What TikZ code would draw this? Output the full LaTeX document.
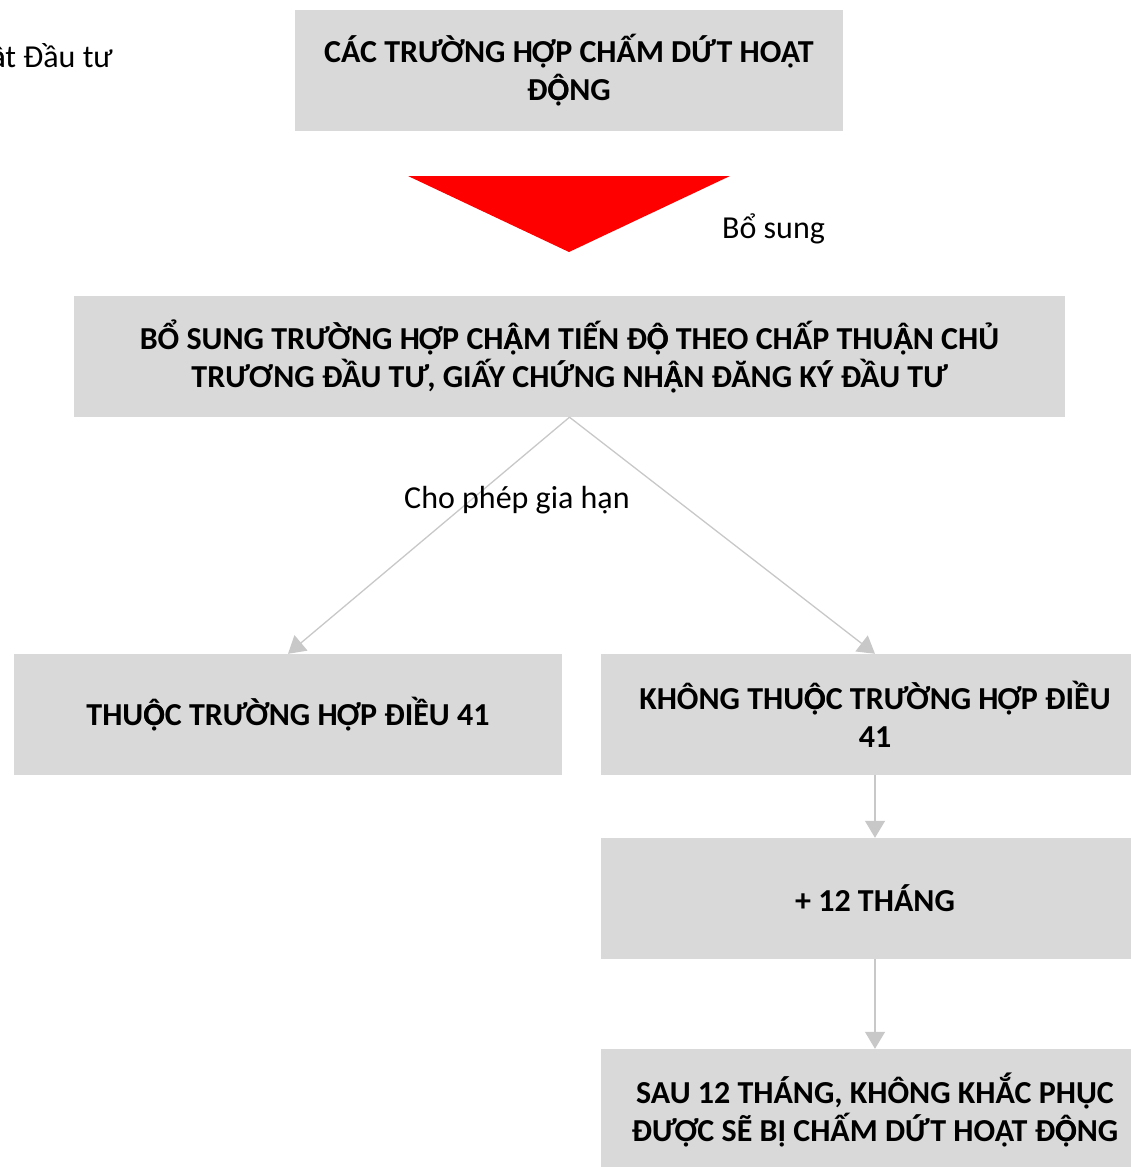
\documentclass[tikz,border=0pt]{standalone}
\usepackage{fontspec}
\setmainfont{Carlito}
\usetikzlibrary{arrows.meta}
\definecolor{boxgray}{RGB}{217,217,217}
\definecolor{linegray}{RGB}{200,200,200}
\newcommand\OCD{\rlap{Ô}Ọ}
\newcommand\ACD{\rlap{Â}Ạ}
\newcommand\acd{\rlap{â}ạ}
\begin{document}
\begin{tikzpicture}[x=1pt,y=-1pt,
 box/.style={fill=boxgray, minimum width=548pt, minimum height=121pt, align=center, font=\fontsize{32}{38}\selectfont\bfseries, inner sep=0pt},
 conn/.style={draw=linegray, line width=1.3pt, -{Triangle[width=20pt,length=17pt]}},
 lbl/.style={font=\fontsize{32}{38}\selectfont, inner sep=0pt}]
\useasboundingbox (0,0) rectangle (1131,1167);
\clip (0,0) rectangle (1131,1167);
\node[box] (b1) at (569,70.5) {CÁC TRƯỜNG HỢP CHẤM DỨT HOẠT\\Đ\OCD NG};
\fill[red] (408,176) -- (730,176) -- (569,252) -- cycle;
\node[lbl, anchor=west] (bs) at (722,229) {Bổ sung};
\node[box, minimum width=991pt] (b2) at (569.5,356.5) {BỔ SUNG TRƯỜNG HỢP CH\ACD M TIẾN Đ\OCD\ THEO CHẤP THU\ACD N CHỦ\\TRƯƠNG ĐẦU TƯ, GIẤY CHỨNG NH\ACD N ĐĂNG KÝ ĐẦU TƯ};
\node[lbl, anchor=east] (lt) at (113,58) {Lu\acd t Đầu tư};
\node[box] (b3) at (288,714.5) {THU\OCD C TRƯỜNG HỢP ĐIỀU 41};
\node[box] (b4) at (875,714.5) {KHÔNG THU\OCD C TRƯỜNG HỢP ĐIỀU\\41};
\node[box] (b5) at (875,898.5) {+ 12 THÁNG};
\node[box] (b6) at (875,1109.5) {SAU 12 THÁNG, KHÔNG KHẮC PHỤC\\ĐƯỢC SẼ BỊ CHẤM DỨT HOẠT Đ\OCD NG};
\draw[conn] (b2.south) -- (b3.north);
\draw[conn] (b2.south) -- (b4.north);
\draw[conn] (b4.south) -- (b5.north);
\draw[conn] (b5.south) -- (b6.north);
\node[lbl, anchor=west] (cp) at (404,500) {Cho phép gia hạn};
\end{tikzpicture}
\end{document}
